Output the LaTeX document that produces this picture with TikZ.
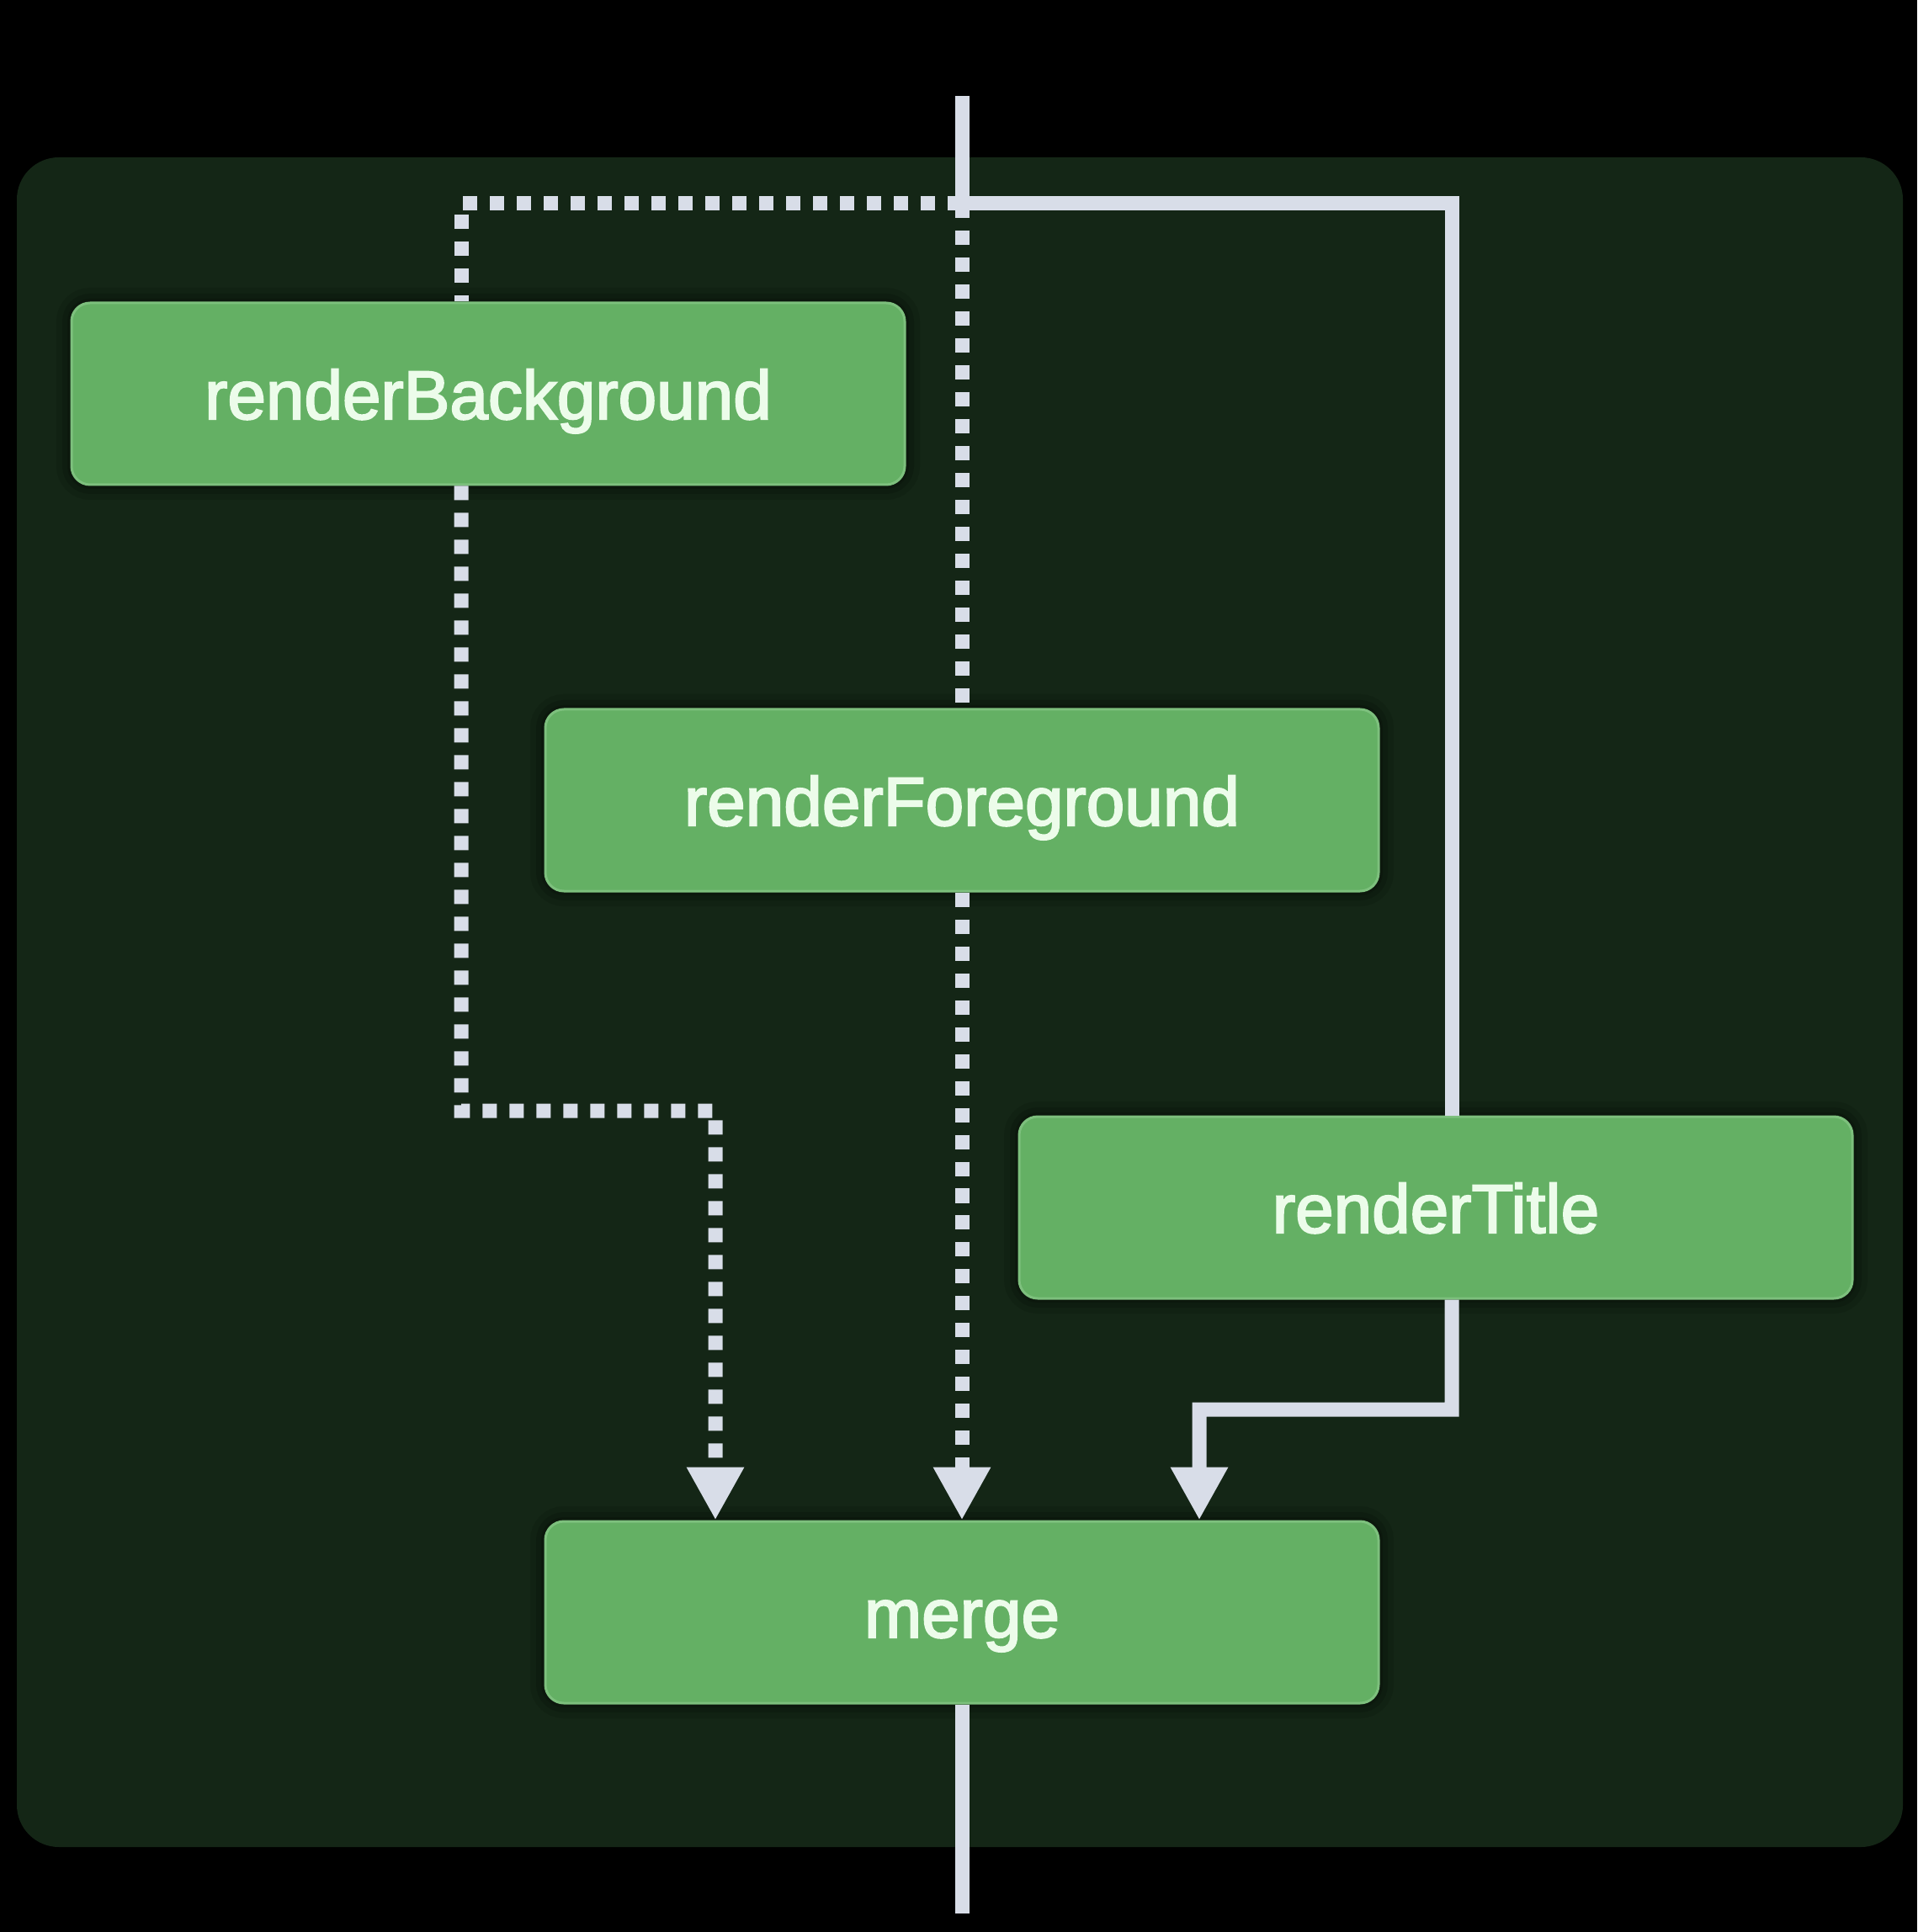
\documentclass[tikz,border=0pt]{standalone}
\usepackage{fontspec}
\setmainfont{Liberation Sans}
\newfontfamily\boxfont[FakeBold=2.5]{Liberation Sans}
\usetikzlibrary{arrows.meta}
\definecolor{bgpanel}{RGB}{20,38,22}
\definecolor{boxfill}{RGB}{100,176,100}
\definecolor{boxedge}{RGB}{125,192,125}
\definecolor{linec}{RGB}{216,221,232}
\definecolor{textc}{RGB}{236,252,234}
\begin{document}
\begin{tikzpicture}[
  box/.style={draw=boxedge, line width=0.03cm, fill=boxfill, rounded corners=0.22cm,
    minimum width=9.9cm, minimum height=2.16cm, inner sep=0pt, text=textc,
    text height=0.60cm, text depth=0pt,
    font=\boxfont\fontsize{23.3}{28}\selectfont,
    preaction={draw=black, draw opacity=0.10, line width=0.36cm},
    preaction={draw=black, draw opacity=0.12, line width=0.22cm},
    preaction={draw=black, draw opacity=0.14, line width=0.10cm}},
  conn/.style={draw=linec, line width=0.17cm},
  dotline/.style={conn, dash pattern=on 0.17cm off 0.15cm},
  tip/.style={-{Triangle[width=0.64cm,length=0.63cm]}},
]
\fill[black] (0,0) rectangle (22.78,-22.96);
\useasboundingbox (0,0) rectangle (22.78,-22.96);
\fill[bgpanel, rounded corners=0.5cm] (0.20,-1.87) rectangle (22.61,-21.95);

\node[box] (bg) at (5.80,-4.68) {renderBackground};
\node[box] (fg) at (11.43,-9.51) {renderForeground};
\node[box] (tt) at (17.06,-14.35) {renderTitle};
\node[box] (mg) at (11.43,-19.16) {merge};

\coordinate (top) at (11.43,-1.14);
\coordinate (j) at (11.43,-2.42);
\coordinate (bot) at (11.43,-22.74);
\coordinate (bgturn) at (8.50,-13.20);
\coordinate (ttturn) at (14.25,-16.75);

% solid connectors
\draw[conn] (top) -- (j) -| ([xshift=0.19cm]tt.north);
\draw[conn, tip] ([xshift=0.19cm]tt.south) |- (ttturn) -- ([xshift=2.82cm]mg.north);
\draw[conn] (mg.south) -- (bot);

% dotted connectors
\draw[dotline] (j) -| ([xshift=-0.32cm]bg.north);
\draw[dotline] (j) -- (fg.north);
\draw[dotline, tip] ([xshift=-0.32cm]bg.south) |- (bgturn) -- ([xshift=-2.93cm]mg.north);
\draw[dotline, tip] (fg.south) -- (mg.north);
\end{tikzpicture}
\end{document}
